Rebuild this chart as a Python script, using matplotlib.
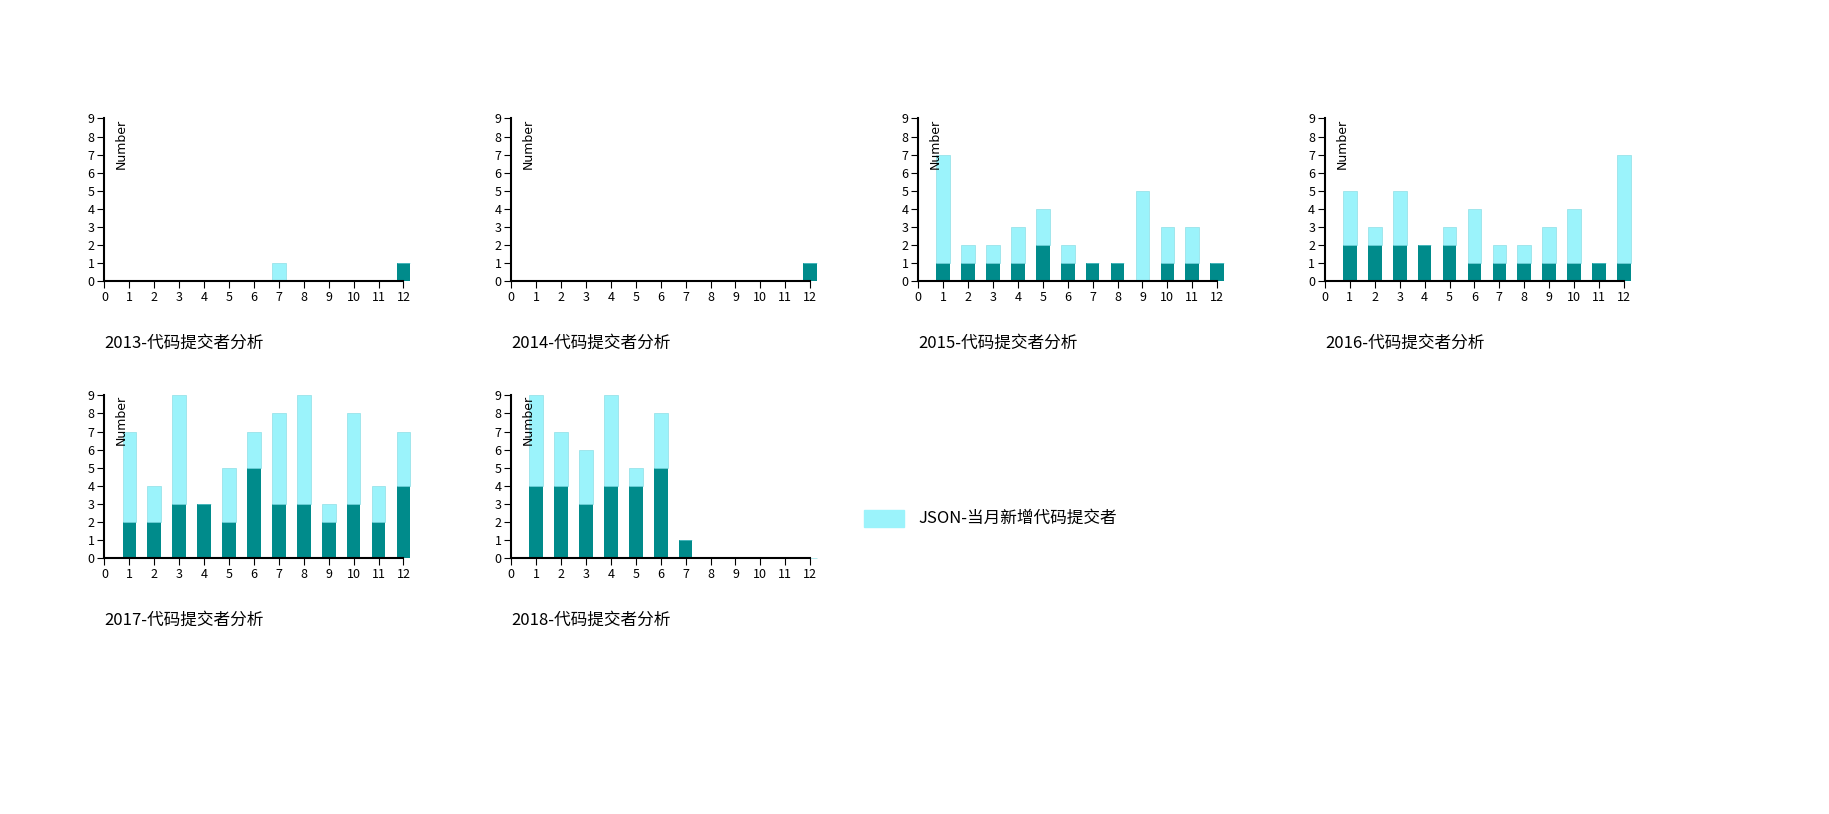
import matplotlib.pyplot as plt

plt.rcParams['font.family'] = ['Noto Sans CJK SC', 'DejaVu Sans']

months = list(range(1, 13))
years = ['2013', '2014', '2015', '2016', '2017', '2018']
old_2013 = [0, 0, 0, 0, 0, 0, 0, 0, 0, 0, 0, 1]
new_2013 = [0, 0, 0, 0, 0, 0, 1, 0, 0, 0, 0, 0]
old_2014 = [0, 0, 0, 0, 0, 0, 0, 0, 0, 0, 0, 1]
new_2014 = [0, 0, 0, 0, 0, 0, 0, 0, 0, 0, 0, 0]
old_2015 = [1, 1, 1, 1, 2, 1, 1, 1, 0, 1, 1, 1]
new_2015 = [6, 1, 1, 2, 2, 1, 0, 0, 5, 2, 2, 0]
old_2016 = [2, 2, 2, 2, 2, 1, 1, 1, 1, 1, 1, 1]
new_2016 = [3, 1, 3, 0, 1, 3, 1, 1, 2, 3, 0, 6]
old_2017 = [2, 2, 3, 3, 2, 5, 3, 3, 2, 3, 2, 4]
new_2017 = [5, 2, 6, 0, 3, 2, 5, 6, 1, 5, 2, 3]
old_2018 = [4, 4, 3, 4, 4, 5, 1, 0, 0, 0, 0, 0]
new_2018 = [5, 3, 3, 5, 1, 3, 0, 0, 0, 0, 0, 0]
olds = [old_2013, old_2014, old_2015, old_2016, old_2017, old_2018]
news = [new_2013, new_2014, new_2015, new_2016, new_2017, new_2018]

dark = '#008b8b'
light = '#9bf3fb'

fig = plt.figure(figsize=(18.29, 8.14), dpi=100)
lefts = [0.0571, 0.2795, 0.502, 0.7244]
rows = [(0.6542, 0.2003), (0.3141, 0.2003)]

for i, year in enumerate(years):
    b, h = rows[i // 4]
    ax = fig.add_axes([lefts[i % 4], b, 0.1635, h])
    ax.bar(months, olds[i], width=0.55, color=dark, clip_on=False, zorder=2)
    ax.bar(months, news[i], bottom=olds[i], width=0.55, color=light,
           edgecolor='#7fd8e0', linewidth=0.4, clip_on=False, zorder=2)
    ax.set_xlim(0, 12)
    ax.set_ylim(0, 9)
    ax.set_xticks(range(0, 13))
    ax.set_yticks(range(0, 10))
    ax.tick_params(labelsize=9, length=5, pad=2)
    for s in ['top', 'right']:
        ax.spines[s].set_visible(False)
    ax.spines['bottom'].set_linewidth(1.5)
    ax.spines['left'].set_linewidth(1.5)
    ax.text(0.035, 1.0, 'Number', transform=ax.transAxes, rotation=90,
            ha='left', va='top', fontsize=9, family='DejaVu Sans')
    ax.text(0.0, -0.38, year + '-代码提交者分析', transform=ax.transAxes,
            ha='left', va='center', fontsize=12)

fig.patches.append(plt.Rectangle((0.4724, 0.3525), 0.0218, 0.0205,
                                 transform=fig.transFigure, color=light))
fig.text(0.502, 0.3628, 'JSON-当月新增代码提交者', fontsize=12, va='center')

plt.savefig('out.png')
